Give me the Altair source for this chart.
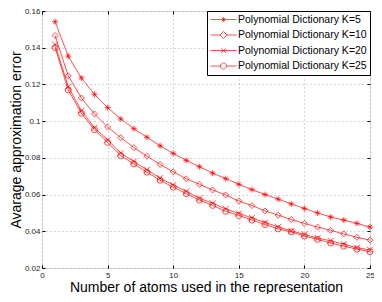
import altair as alt
import pandas as pd

atoms = list(range(1, 26))
labels = ["Polynomial Dictionary K=5", "Polynomial Dictionary K=10",
          "Polynomial Dictionary K=20", "Polynomial Dictionary K=25"]
k5 = [0.1542, 0.1354, 0.1235, 0.1146, 0.1074, 0.1012, 0.0959, 0.0912, 0.0866, 0.0824,
      0.0786, 0.0752, 0.0717, 0.0687, 0.0656, 0.0627, 0.0600, 0.0575, 0.0549, 0.0524,
      0.0500, 0.0478, 0.0461, 0.0443, 0.0423]
k10 = [0.1466, 0.1247, 0.1126, 0.1039, 0.0968, 0.0910, 0.0856, 0.0809, 0.0764, 0.0724,
       0.0686, 0.0656, 0.0625, 0.0598, 0.0565, 0.0540, 0.0511, 0.0488, 0.0464, 0.0443,
       0.0423, 0.0405, 0.0386, 0.0367, 0.0352]
k20 = [0.1417, 0.1188, 0.1057, 0.0964, 0.0898, 0.0826, 0.0780, 0.0735, 0.0690, 0.0652,
       0.0617, 0.0580, 0.0553, 0.0522, 0.0497, 0.0473, 0.0448, 0.0424, 0.0402, 0.0383,
       0.0363, 0.0348, 0.0330, 0.0310, 0.0299]
k25 = [0.1401, 0.1170, 0.1043, 0.0953, 0.0884, 0.0812, 0.0767, 0.0722, 0.0678, 0.0640,
       0.0605, 0.0570, 0.0541, 0.0509, 0.0486, 0.0461, 0.0437, 0.0413, 0.0397, 0.0374,
       0.0356, 0.0336, 0.0319, 0.0303, 0.0289]
x_ticks = [0, 5, 10, 15, 20, 25]
y_ticks = [0.02, 0.04, 0.06, 0.08, 0.1, 0.12, 0.14, 0.16]

rows = []
for lab, vals in zip(labels, [k5, k10, k20, k25]):
    for a, v in zip(atoms, vals):
        rows.append({"atoms": a, "err": v, "series": lab})
df = pd.DataFrame(rows)

RED = "#ff0000"
FONT = "Liberation Sans"

# plot marker shapes (unit square -1..1)
star = "M-1,0L1,0M0,-1L0,1M-0.7,-0.7L0.7,0.7M-0.7,0.7L0.7,-0.7"
xmark = "M-1,-1L1,1M-1,1L1,-1"
plot_shapes = [star, "diamond", xmark, "circle"]


def circ(r):
    return f"M-{r},0A{r},{r} 0 1,0 {r},0A{r},{r} 0 1,0 -{r},0"


# legend shapes (1 unit = 5 px with symbolSize 100): marker with a line through it
L = 2.6
m = 0.5
k = 0.35
leg_star = f"M-{L},0L{L},0M0,-{m}L0,{m}M-{k},-{k}L{k},{k}M-{k},{k}L{k},-{k}"
d = 0.7
leg_diam = f"M-{L},0L-{d},0M{d},0L{L},0M-{d},0L0,-{d}L{d},0L0,{d}Z"
xm = 0.45
leg_x = f"M-{L},0L{L},0M-{xm},-{xm}L{xm},{xm}M-{xm},{xm}L{xm},-{xm}"
c = 0.6
leg_circ = f"M-{L},0L-{c},0M{c},0L{L},0" + circ(c)
legend_shapes = [leg_star, leg_diam, leg_x, leg_circ]

axis_common = dict(offset=-3, tickSize=3, domain=False, labelFontSize=8,
                   titleFontSize=14, labelFont=FONT, titleFont=FONT,
                   labelColor="#222", titleColor="black", tickColor="black",
                   grid=True, gridDash=[1, 3], gridColor="#999", gridWidth=0.8,
                   titleFontWeight="normal", labelOverlap=False, labelFlush=False)
mirror_common = dict(offset=-3, tickSize=3, domain=False, labels=False, title=None,
                     grid=False, tickColor="black")

xscale = alt.Scale(domain=[0, 25], nice=False)
yscale = alt.Scale(domain=[0.02, 0.16], nice=False)

xenc = alt.X("atoms:Q", scale=xscale,
             axis=alt.Axis(values=x_ticks, title="Number of atoms used in the representation",
                           format="d", labelPadding=3, titlePadding=1, **axis_common))
yenc = alt.Y("err:Q", scale=yscale,
             axis=alt.Axis(values=y_ticks, title="Avarage approximation error",
                           format=".2~f", labelPadding=2, titlePadding=1, **axis_common))

lines = alt.Chart(df).mark_line(color=RED, strokeWidth=0.7).encode(
    x=xenc, y=yenc, detail="series:N")

points = alt.Chart(df).mark_point(color=RED, filled=False, strokeWidth=0.7, opacity=1).encode(
    x=alt.X("atoms:Q", scale=xscale, axis=None),
    y=alt.Y("err:Q", scale=yscale, axis=None),
    shape=alt.Shape("series:N", scale=alt.Scale(domain=labels, range=plot_shapes), legend=None),
    size=alt.value(36))

legend_layer = alt.Chart(df).mark_point(color=RED, filled=False, strokeWidth=0.7, opacity=0).encode(
    x=alt.X("atoms:Q", scale=xscale,
            axis=alt.Axis(orient="top", values=x_ticks, **mirror_common)),
    y=alt.Y("err:Q", scale=yscale,
            axis=alt.Axis(orient="right", values=y_ticks, **mirror_common)),
    shape=alt.Shape("series:N", scale=alt.Scale(domain=labels, range=legend_shapes),
                    legend=alt.Legend(title=None, orient="top-right", offset=0, padding=3,
                                      fillColor="white", strokeColor="black",
                                      labelFont=FONT, labelFontSize=10.5, labelColor="black",
                                      symbolSize=100, symbolStrokeWidth=0.7,
                                      symbolStrokeColor=RED, symbolFillColor="transparent",
                                      symbolOpacity=1, symbolOffset=8, labelOffset=9,
                                      labelLimit=0, rowPadding=4.5)))

chart = alt.layer(lines, points, legend_layer).resolve_scale(
    shape="independent").resolve_axis(x="independent", y="independent").properties(
    width=328, height=257,
    autosize=alt.AutoSizeParams(type="none"),
    padding={"left": 34, "top": 3, "right": 4, "bottom": 26},
).configure_view(stroke="black", strokeWidth=1).configure(background="white")

chart.save("out.html", embed_options={"renderer": "svg", "actions": False})
